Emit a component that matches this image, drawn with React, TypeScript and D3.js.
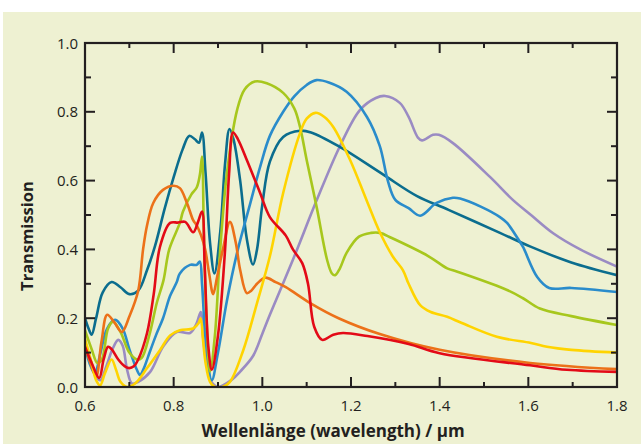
import React from "react"
import * as d3 from "d3"

// transmission spectra as [wavelength (µm), transmission]
const tealSeries = [
  [0.6, 0.2], [0.608, 0.17], [0.615, 0.152], [0.625, 0.2], [0.64, 0.275], [0.66, 0.305],
  [0.68, 0.29], [0.7, 0.27], [0.72, 0.28], [0.74, 0.34], [0.758, 0.41], [0.78, 0.52],
  [0.8, 0.61], [0.82, 0.69], [0.835, 0.73], [0.848, 0.72], [0.857, 0.71], [0.864, 0.74],
  [0.872, 0.62], [0.882, 0.42], [0.892, 0.33], [0.905, 0.45], [0.916, 0.65], [0.926, 0.75],
  [0.935, 0.72], [0.95, 0.6], [0.965, 0.43], [0.979, 0.356], [0.988, 0.4], [1.0, 0.53],
  [1.017, 0.655], [1.047, 0.727], [1.085, 0.745], [1.11, 0.74], [1.172, 0.7], [1.272, 0.618],
  [1.349, 0.555], [1.42, 0.515], [1.536, 0.448], [1.605, 0.408], [1.697, 0.362], [1.8, 0.325],
]
const blueSeries = [
  [0.6, 0.12], [0.61, 0.07], [0.622, 0.04], [0.635, 0.1], [0.65, 0.17], [0.668, 0.195],
  [0.685, 0.17], [0.7, 0.11], [0.717, 0.05], [0.724, 0.035], [0.733, 0.055], [0.742, 0.087],
  [0.76, 0.15], [0.776, 0.2], [0.792, 0.265], [0.807, 0.305], [0.814, 0.33], [0.837, 0.355],
  [0.852, 0.355], [0.859, 0.365], [0.864, 0.3], [0.872, 0.14], [0.886, 0.02], [0.9, 0.1],
  [0.92, 0.25], [0.943, 0.39], [0.972, 0.53], [0.995, 0.64], [1.017, 0.73], [1.047, 0.8],
  [1.072, 0.845], [1.1, 0.878], [1.122, 0.892], [1.15, 0.885], [1.19, 0.858], [1.236, 0.785],
  [1.265, 0.7], [1.283, 0.6], [1.3, 0.544], [1.33, 0.52], [1.356, 0.498], [1.393, 0.535],
  [1.43, 0.55], [1.446, 0.548], [1.495, 0.523], [1.536, 0.494], [1.552, 0.477], [1.577, 0.43],
  [1.588, 0.407], [1.62, 0.32], [1.647, 0.288], [1.697, 0.288], [1.8, 0.276],
]
const greenSeries = [
  [0.6, 0.165], [0.615, 0.11], [0.628, 0.07], [0.638, 0.08], [0.652, 0.17], [0.663, 0.19],
  [0.68, 0.16], [0.7, 0.1], [0.717, 0.08], [0.728, 0.085], [0.745, 0.15], [0.762, 0.245],
  [0.777, 0.31], [0.79, 0.4], [0.814, 0.477], [0.821, 0.51], [0.84, 0.56], [0.852, 0.58],
  [0.859, 0.616], [0.864, 0.67], [0.868, 0.45], [0.874, 0.2], [0.882, 0.045], [0.893, 0.15],
  [0.905, 0.4], [0.92, 0.62], [0.943, 0.805], [0.96, 0.865], [0.983, 0.888], [1.01, 0.883],
  [1.047, 0.855], [1.072, 0.81], [1.085, 0.756], [1.1, 0.66], [1.123, 0.52], [1.146, 0.37],
  [1.157, 0.33], [1.164, 0.325], [1.175, 0.345], [1.19, 0.39], [1.218, 0.437], [1.245, 0.448],
  [1.265, 0.448], [1.292, 0.433], [1.375, 0.38], [1.417, 0.345], [1.44, 0.335], [1.552, 0.282],
  [1.588, 0.258], [1.626, 0.228], [1.697, 0.206], [1.8, 0.18],
]
const orangeSeries = [
  [0.6, 0.12], [0.612, 0.07], [0.625, 0.03], [0.637, 0.13], [0.65, 0.21], [0.665, 0.19],
  [0.683, 0.16], [0.7, 0.205], [0.72, 0.28], [0.731, 0.4], [0.74, 0.47], [0.754, 0.535],
  [0.776, 0.573], [0.8, 0.585], [0.814, 0.578], [0.83, 0.535], [0.844, 0.485], [0.852, 0.47],
  [0.862, 0.44], [0.871, 0.4], [0.88, 0.33], [0.889, 0.27], [0.898, 0.32], [0.911, 0.4],
  [0.927, 0.48], [0.94, 0.42], [0.95, 0.34], [0.965, 0.273], [0.975, 0.28], [0.988, 0.3],
  [1.007, 0.318], [1.03, 0.305], [1.053, 0.29], [1.108, 0.244], [1.172, 0.2], [1.265, 0.154],
  [1.4, 0.108], [1.604, 0.07], [1.8, 0.052],
]
const redSeries = [
  [0.6, 0.117], [0.615, 0.07], [0.632, 0.026], [0.642, 0.08], [0.652, 0.117], [0.66, 0.11],
  [0.675, 0.08], [0.69, 0.06], [0.7, 0.055], [0.71, 0.06], [0.72, 0.08], [0.74, 0.157],
  [0.755, 0.27], [0.769, 0.407], [0.792, 0.477], [0.81, 0.478], [0.826, 0.48], [0.844, 0.45],
  [0.855, 0.48], [0.864, 0.51], [0.87, 0.35], [0.878, 0.12], [0.886, 0.05], [0.9, 0.15],
  [0.916, 0.4], [0.925, 0.62], [0.934, 0.74], [0.945, 0.72], [0.965, 0.66], [0.995, 0.564],
  [1.017, 0.494], [1.053, 0.44], [1.069, 0.4], [1.09, 0.36], [1.103, 0.3], [1.117, 0.175],
  [1.135, 0.137], [1.16, 0.152], [1.182, 0.157], [1.237, 0.148], [1.33, 0.125], [1.4, 0.098],
  [1.604, 0.063], [1.687, 0.05], [1.8, 0.044],
]
const yellowSeries = [
  [0.6, 0.14], [0.615, 0.07], [0.625, 0.02], [0.634, 0.005], [0.645, 0.04], [0.66, 0.08],
  [0.67, 0.05], [0.68, 0.015], [0.695, 0.0], [0.713, 0.01], [0.74, 0.055], [0.769, 0.107],
  [0.792, 0.15], [0.814, 0.165], [0.844, 0.17], [0.856, 0.185], [0.861, 0.2], [0.866, 0.14],
  [0.872, 0.07], [0.882, 0.015], [0.893, 0.0], [0.91, 0.0], [0.927, 0.015], [0.957, 0.107],
  [0.988, 0.244], [1.017, 0.38], [1.047, 0.564], [1.085, 0.738], [1.1, 0.78], [1.12, 0.797],
  [1.14, 0.785], [1.16, 0.756], [1.198, 0.66], [1.236, 0.54], [1.265, 0.45], [1.295, 0.378],
  [1.317, 0.34], [1.33, 0.3], [1.356, 0.238], [1.38, 0.218], [1.417, 0.204], [1.45, 0.186],
  [1.529, 0.146], [1.606, 0.128], [1.642, 0.117], [1.697, 0.108], [1.8, 0.1],
]
const purpleSeries = [
  [0.6, 0.13], [0.612, 0.08], [0.625, 0.03], [0.635, 0.02], [0.648, 0.06], [0.662, 0.11],
  [0.675, 0.137], [0.685, 0.12], [0.695, 0.05], [0.706, 0.01], [0.72, 0.015], [0.747, 0.044],
  [0.776, 0.117], [0.807, 0.16], [0.837, 0.157], [0.852, 0.186], [0.861, 0.218], [0.866, 0.15],
  [0.875, 0.06], [0.885, 0.015], [0.9, 0.0], [0.93, 0.02], [0.95, 0.045], [0.979, 0.09],
  [1.0, 0.155], [1.017, 0.21], [1.069, 0.37], [1.123, 0.544], [1.175, 0.7], [1.22, 0.805],
  [1.256, 0.84], [1.277, 0.846], [1.31, 0.826], [1.33, 0.785], [1.351, 0.725], [1.36, 0.717],
  [1.385, 0.733], [1.398, 0.733], [1.43, 0.709], [1.514, 0.61], [1.565, 0.544], [1.606, 0.5],
  [1.656, 0.447], [1.717, 0.4], [1.8, 0.35],
]

const seriesColors = ["#9a8bc3", "#0b6d8e", "#2a8ccb", "#a7c71d", "#ec7119", "#ffd400", "#e30a17"]
const allSeries = [purpleSeries, tealSeries, blueSeries, greenSeries, orangeSeries, yellowSeries, redSeries]

const xTickValues = [0.6, 0.7, 0.8, 0.9, 1.0, 1.1, 1.2, 1.3, 1.4, 1.5, 1.6, 1.7, 1.8]
const yTickValues = [0, 0.1, 0.2, 0.3, 0.4, 0.5, 0.6, 0.7, 0.8, 0.9, 1.0]

const xTitle = "Wellenlänge (wavelength) / µm"
const yTitle = "Transmission"

export default function App() {
  const width = 641
  const height = 444
  const left = 85
  const right = 617
  const top = 43
  const bottom = 387
  const font = "'Open Sans', 'Noto Sans', sans-serif"
  const ink = "#231f20"

  const x = d3.scaleLinear().domain([0.6, 1.8]).range([left, right])
  const y = d3.scaleLinear().domain([0, 1]).range([bottom, top])
  const fmt = d3.format(".1f")

  const line = d3
    .line<number[]>()
    .x(d => x(d[0]))
    .y(d => y(d[1]))
    .curve(d3.curveCatmullRom.alpha(0.5))

  return (
    <div style={{ position: "fixed", left: 0, top: 0 }}>
      <svg width={width} height={height} style={{ display: "block" }}>
        <rect x={0} y={0} width={width} height={height} fill="#ffffff" />
        <rect x={3} y={12} width={width - 3} height={height - 12} fill="#eef1d2" />
        <defs>
          <clipPath id="plot">
            <rect x={left} y={top} width={right - left} height={bottom - top} />
          </clipPath>
        </defs>

        <g clipPath="url(#plot)">
          {allSeries.map((s, i) => (
            <path key={i} d={line(s as number[][]) || ""} fill="none"
              stroke={seriesColors[i]} strokeWidth={2.6} strokeLinejoin="round" />
          ))}
        </g>

        {/* ticks on all four sides, pointing in */}
        {xTickValues.map((t, i) => {
          const len = i % 2 === 0 ? 10 : 5
          return (
            <g key={"x" + i}>
              <line x1={x(t)} x2={x(t)} y1={bottom} y2={bottom - len} stroke={ink} strokeWidth={2} />
              <line x1={x(t)} x2={x(t)} y1={top} y2={top + len} stroke={ink} strokeWidth={2} />
              {i % 2 === 0 && (
                <text x={x(t)} y={411} textAnchor="middle" fontFamily={font} fontSize={15} fill={ink}>
                  {fmt(t)}
                </text>
              )}
            </g>
          )
        })}
        {yTickValues.map((t, i) => {
          const len = i % 2 === 0 ? 10 : 6
          return (
            <g key={"y" + i}>
              <line x1={left} x2={left + len} y1={y(t)} y2={y(t)} stroke={ink} strokeWidth={2} />
              <line x1={right} x2={right - len} y1={y(t)} y2={y(t)} stroke={ink} strokeWidth={2} />
              {i % 2 === 0 && (
                <text x={78} y={y(t) + 5.5} textAnchor="end" fontFamily={font} fontSize={15} fill={ink}>
                  {fmt(t)}
                </text>
              )}
            </g>
          )
        })}

        <rect x={left} y={top} width={right - left} height={bottom - top} fill="none" stroke={ink} strokeWidth={2.2} />

        <text x={333} y={437} textAnchor="middle" fontFamily={font}
          fontWeight="bold" fontSize={17} fill={ink}>
          {xTitle}
        </text>
        <text transform="translate(33,236) rotate(-90)" textAnchor="middle"
          fontFamily={font} fontWeight="bold" fontSize={16.5} fill={ink}>
          {yTitle}
        </text>
      </svg>
    </div>
  )
}
